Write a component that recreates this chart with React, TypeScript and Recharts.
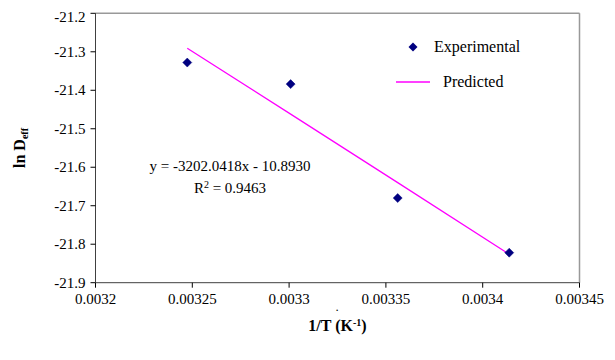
import React from "react";
import { ScatterChart, Scatter, XAxis, YAxis, ReferenceLine } from "recharts";

const invT = [0.0032474, 0.0033008, 0.0033561, 0.0034137];
const lnDeffExp = [-21.328, -21.384, -21.68, -21.822];
const lnDeffPred = [-21.291, -21.462, -21.64, -21.826];

const xTicks = [0.0032, 0.00325, 0.0033, 0.00335, 0.0034, 0.00345];
const xTickLabels = ["0.0032", "0.00325", "0.0033", "0.00335", "0.0034", "0.00345"];
const yTicks = [-21.9, -21.8, -21.7, -21.6, -21.5, -21.4, -21.3, -21.2];
const yTickLabels = ["-21.9", "-21.8", "-21.7", "-21.6", "-21.5", "-21.4", "-21.3", "-21.2"];

const expData = invT.map((x, i) => ({ x, y: lnDeffExp[i] }));
const predData = invT.map((x, i) => ({ x, y: lnDeffPred[i] }));

const FONT = '"Liberation Serif", "Times New Roman", serif';
const NAVY = "#000080";
const MAGENTA = "#FF00FF";

const Diamond = (props: any) => {
  const { cx, cy } = props;
  const r = 4.5;
  return (
    <polygon
      points={`${cx},${cy - r} ${cx + r},${cy} ${cx},${cy + r} ${cx - r},${cy}`}
      fill={NAVY}
      stroke={NAVY}
      strokeWidth={0.5}
    />
  );
};

const NoShape = () => null;

const xFmt = (v: number) => {
  const i = xTicks.findIndex((t) => Math.abs(t - v) < 1e-9);
  return i >= 0 ? xTickLabels[i] : String(v);
};
const yFmt = (v: number) => {
  const i = yTicks.findIndex((t) => Math.abs(t - v) < 1e-9);
  return i >= 0 ? yTickLabels[i] : String(v);
};

const tickStyle: React.CSSProperties = { fontFamily: FONT, fontSize: 15, fill: "#000" };

const XTick = (props: any) => {
  const { x, y, payload } = props;
  return (
    <g>
      <text x={x} y={y + 12} textAnchor="middle" fontFamily="Liberation Serif" style={tickStyle}>
        {xFmt(payload.value)}
      </text>
    </g>
  );
};

const YTick = (props: any) => {
  const { x, y, payload } = props;
  return (
    <g>
      <text x={x} y={y + 5} textAnchor="end" fontFamily="Liberation Serif" style={tickStyle}>
        {yFmt(payload.value)}
      </text>
    </g>
  );
};

const abs = (style: React.CSSProperties): React.CSSProperties => ({
  position: "absolute",
  fontFamily: FONT,
  color: "#000",
  whiteSpace: "nowrap",
  lineHeight: 1,
  ...style,
});

export default function App() {
  return (
    <div style={{ position: "relative", width: 600, height: 345, fontFamily: FONT }}>
      <ScatterChart
        width={600}
        height={345}
        margin={{ top: 5.3, right: 28.5, bottom: 40.3, left: 0 }}
        style={{ fontFamily: FONT }}
      >
        <XAxis
          type="number"
          dataKey="x"
          domain={[0.0032, 0.00345]}
          ticks={xTicks}
          allowDataOverflow
          height={30}
          stroke="#404040"
          tickSize={5}
          tickMargin={4}
          tick={<XTick />}
          tickLine={{ stroke: "#000" }}
        />
        <YAxis
          type="number"
          dataKey="y"
          domain={[-21.9, -21.2]}
          ticks={yTicks}
          allowDataOverflow
          width={87.5}
          stroke="#404040"
          tickSize={5}
          tickMargin={5}
          tick={<YTick />}
          tickLine={{ stroke: "#000" }}
        />
        <ReferenceLine y={-21.2} stroke="#999" strokeWidth={1.5} />
        <ReferenceLine x={0.00345} stroke="#999" strokeWidth={1.5} />
        <Scatter
          name="Predicted"
          data={predData}
          line={{ stroke: MAGENTA, strokeWidth: 1.3 }}
          shape={NoShape}
          isAnimationActive={false}
        />
        <Scatter
          name="Experimental"
          data={expData}
          shape={Diamond}
          isAnimationActive={false}
        />
      </ScatterChart>

      {/* Y axis title */}
      <div
        style={abs({
          left: 12 - 50,
          top: 140 - 10,
          width: 100,
          height: 20,
          textAlign: "center",
          fontWeight: "bold",
          fontSize: 16,
          transform: "rotate(-90deg)",
          transformOrigin: "50% 50%",
          lineHeight: "20px",
        })}
      >
        ln D<sub style={{ fontSize: 10, verticalAlign: "-3px" }}>eff</sub>
      </div>

      {/* X axis title */}
      <div
        style={abs({
          left: 329.5 - 60,
          top: 318 - 8,
          width: 120,
          textAlign: "center",
          fontWeight: "bold",
          fontSize: 16,
        })}
      >
        1/T (K<sup style={{ fontSize: 10, verticalAlign: "5px" }}>-1</sup>)
      </div>
      <div style={abs({ left: 328, top: 296, fontSize: 9, fontWeight: "bold" })}>.</div>

      {/* Legend */}
      <svg style={{ position: "absolute", left: 399, top: 33 }} width={12} height={12}>
        <polygon points="6,1.5 10.5,6 6,10.5 1.5,6" fill={NAVY} />
      </svg>
      <div style={abs({ left: 426, top: 38.7 - 8, fontSize: 16 })}>Experimental</div>
      <svg style={{ position: "absolute", left: 388, top: 72 }} width={36} height={4}>
        <line x1={0} y1={2} x2={34} y2={2} stroke={MAGENTA} strokeWidth={1.3} />
      </svg>
      <div style={abs({ left: 435, top: 74 - 8, fontSize: 16 })}>Predicted</div>

      {/* Equation */}
      <div
        style={abs({
          left: 222 - 120,
          top: 159 - 8,
          width: 240,
          textAlign: "center",
          fontSize: 15,
        })}
      >
        y = -3202.0418x - 10.8930
      </div>
      <div
        style={abs({
          left: 222 - 120,
          top: 180 - 8,
          width: 240,
          textAlign: "center",
          fontSize: 15,
        })}
      >
        R<sup style={{ fontSize: 10, verticalAlign: "5px" }}>2</sup> = 0.9463
      </div>
    </div>
  );
}
